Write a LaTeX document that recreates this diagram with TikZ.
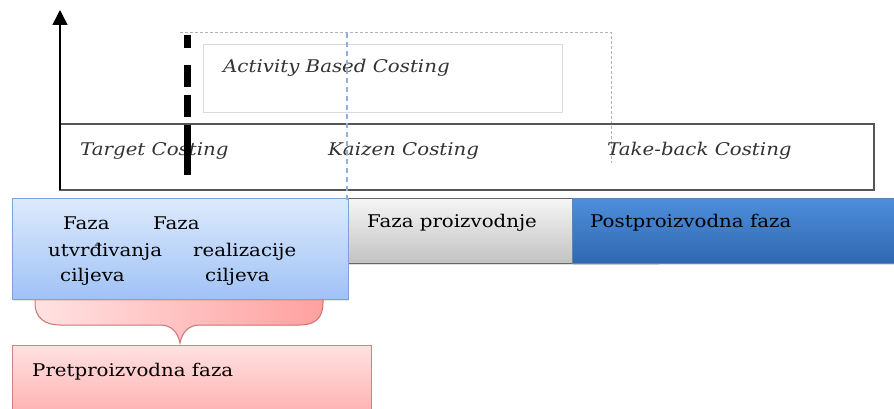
\documentclass[tikz,border=0pt]{standalone}
\usepackage{fontspec}
\setmainfont{DejaVu Serif}[FakeStretch=1.13]
\usetikzlibrary{arrows.meta,shadows}
\definecolor{boxline}{HTML}{555555}
\definecolor{ltblueA}{HTML}{DDEAFC}
\definecolor{ltblueB}{HTML}{A0C2F6}
\definecolor{ltblueLine}{HTML}{7FA3D6}
\definecolor{grayA}{HTML}{F6F6F6}
\definecolor{grayB}{HTML}{C2C2C2}
\definecolor{blueA}{HTML}{4E8EDC}
\definecolor{blueB}{HTML}{3068B0}
\definecolor{pinkA}{HTML}{FFE2E2}
\definecolor{pinkB}{HTML}{FFA0A0}
\definecolor{pinkC}{HTML}{FFB0B0}
\definecolor{pinkLine}{HTML}{D08282}
\definecolor{braceLine}{HTML}{C0504D}
\definecolor{dashBlue}{HTML}{8EB0DA}
\tikzset{
  lbl/.style={anchor=base west, inner sep=0pt, font=\fontsize{17.5}{20}\selectfont},
  ital/.style={anchor=base west, inner sep=0pt, font=\fontsize{17.5}{20}\selectfont\itshape, text=black!80},
  plain/.style={anchor=north west, inner sep=0pt, outer sep=0pt},
}
\begin{document}
\begin{tikzpicture}[x=1pt,y=-1pt]
\useasboundingbox (0,0) rectangle (894,409);

% ABC box and dashed frame
\node[plain, draw=black!15, line width=0.8pt, minimum width=359pt, minimum height=68pt] (abc) at (203,44) {};
\draw[black!30, dashed, dash pattern=on 3pt off 2pt, line width=0.6pt] (180,32) -- (611,32) -- (611,163);

% costing strip
\node[plain, draw=boxline, line width=1.5pt, minimum width=814pt, minimum height=66pt] (strip) at (60,124) {};

% axis
\coordinate (axb) at (60,190);
\coordinate (axt) at (60,10);
\draw[line width=1.5pt, -{Triangle[length=15pt,width=15pt]}] (axb) -- (axt);

% texts in strip
\node[ital] (tc) at (80,155) {Target Costing};
\node[ital] (kc) at (328,155) {Kaizen Costing};
\node[ital] (tb) at (607,155) {Take-back Costing};
\node[ital] (ab) at (223,73) {Activity Based Costing};

% thick black dashed
\coordinate (bd1) at (187,35);
\coordinate (bd2) at (187,175);
\draw[line width=7pt, dash pattern=on 13pt off 17pt on 22pt off 8pt on 22pt off 8pt on 60pt] (bd1) -- (bd2);

% brace (behind blue box)
\draw[braceLine!80, line width=1pt, left color=pinkA, right color=pinkB]
  (35,296) -- (35,303) .. controls (35,318) and (45,325) .. (60,325) -- (160,325)
  .. controls (172,325) and (178,333) .. (180,343)
  .. controls (182,333) and (188,325) .. (200,325) -- (300,325)
  .. controls (315,325) and (323,318) .. (323,303) -- (323,296);

% gray production box
\node[plain, draw=black!60, line width=1pt, top color=grayA, bottom color=grayB,
  minimum width=310pt, minimum height=65pt, drop shadow={opacity=0.25, shadow xshift=1pt, shadow yshift=-2pt}] (prod) at (348,198) {};
% post box
\node[plain, draw=blueB!80, line width=0.8pt, top color=blueA, bottom color=blueB,
  minimum width=330pt, minimum height=65pt, drop shadow={opacity=0.25, shadow xshift=1pt, shadow yshift=-2pt}] (post) at (572,198) {};

% blue pre box
\node[plain, draw=ltblueLine, line width=1pt, top color=ltblueA, bottom color=ltblueB,
  minimum width=336pt, minimum height=101pt, drop shadow={opacity=0.2, shadow xshift=1pt, shadow yshift=-2pt}] (pre) at (12,198) {};

% blue dashed line
\coordinate (bl1) at (347,33);
\coordinate (bl2) at (347,200);
\draw[dashBlue, line width=1.2pt, dash pattern=on 5pt off 4pt] (bl1) -- (bl2);

% pink box
\node[plain, draw=pinkLine, line width=1pt, top color=pinkA, bottom color=pinkC,
  minimum width=359pt, minimum height=70pt] (pink) at (12,345) {};

% texts
\node[lbl] (f1) at (63,229) {Faza};
\node[lbl] (u1) at (48,256) {utvrđivanja};
\node[lbl] (c1) at (60,281) {ciljeva};
\node[lbl] (f2) at (153,229) {Faza};
\node[lbl] (r2) at (193,256) {realizacije};
\node[lbl] (c2) at (205,281) {ciljeva};
\node[lbl] (fp) at (367,227) {Faza proizvodnje};
\node[lbl] (pp) at (590,227) {Postproizvodna faza};
\node[lbl] (pr) at (32,376) {Pretproizvodna faza};
\end{tikzpicture}
\end{document}
